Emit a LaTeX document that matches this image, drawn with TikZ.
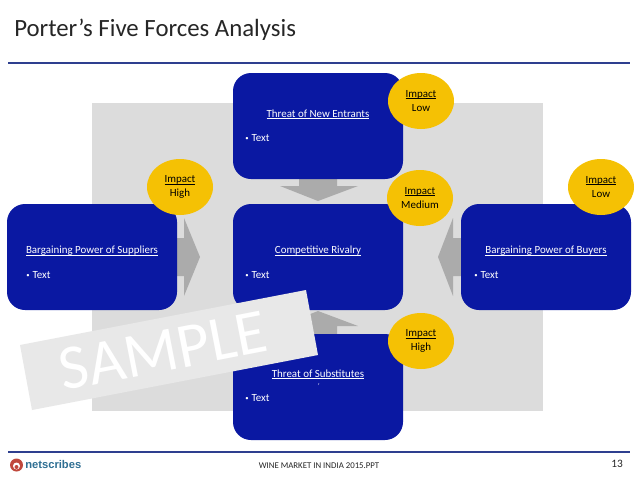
\documentclass[tikz,border=0pt]{standalone}
\usepackage{fontspec}
\setmainfont{Carlito}
\newfontfamily\logofont{Liberation Sans}
\definecolor{boxblue}{HTML}{0A18A2}
\definecolor{impact}{HTML}{F5C104}
\definecolor{panel}{HTML}{DCDCDC}
\definecolor{arrowgray}{HTML}{ABABAB}
\definecolor{rulecol}{HTML}{2E3F8F}
\definecolor{bandgray}{HTML}{E8E8E8}
\definecolor{logoblue}{HTML}{2F6F93}
\definecolor{logored}{HTML}{C0483C}
\newcommand{\myul}[1]{\setbox0=\hbox{#1}\rlap{\rule[-1.1pt]{\wd0}{0.45pt}}\box0}
\newcommand{\smallbul}{{\fontsize{5pt}{5pt}\selectfont\raisebox{0.7pt}{•}}\hspace{2.2pt}}
\tikzset{
 x=0.75pt,y=-0.75pt,
 force/.style={fill=boxblue,rounded corners=13.5pt,minimum width=127.5pt,minimum height=79.5pt,inner sep=0pt},
 ftitle/.style={text=white,font=\fontsize{8.2pt}{9pt}\selectfont,inner sep=0pt},
 ftext/.style={text=white,font=\fontsize{8.2pt}{9pt}\selectfont,inner sep=0pt,anchor=west},
 impactbub/.style={fill=impact,ellipse,minimum width=49.5pt,minimum height=42pt,inner sep=0pt,align=center,font=\fontsize{8.2pt}{10.4pt}\selectfont},
 blockarrow/.style={fill=arrowgray,draw=none},
 rulel/.style={draw=rulecol,line width=0.9pt},
}
\usetikzlibrary{shapes.geometric}
\begin{document}
\begin{tikzpicture}
\useasboundingbox (0,0) rectangle (638,479);
\fill[white] (0,0) rectangle (638,479);
\node[anchor=west,inner sep=0pt,font=\fontsize{18.6pt}{20pt}\selectfont,text=black!85] (title) at (14,30) {Porter’s Five Forces Analysis};
\coordinate (t1) at (8,63); \coordinate (t2) at (630,63);
\draw[rulel] (t1) -- (t2);
\fill[panel] (92,103) rectangle (543,411);
% block arrows
\fill[blockarrow] (299,179) -- (337,179) -- (337,186) -- (358,186) -- (318,201) -- (280,186) -- (299,186) -- cycle;
\fill[blockarrow] (177,238) -- (184,238) -- (184,218) -- (200,257) -- (184,296) -- (184,276) -- (177,276) -- cycle;
\fill[blockarrow] (461,238) -- (453,238) -- (453,218) -- (438,257) -- (453,296) -- (453,276) -- (461,276) -- cycle;
\fill[blockarrow] (299,334) -- (337,334) -- (337,326) -- (358,326) -- (318,311) -- (280,326) -- (299,326) -- cycle;
% forces
\node[force] (top) at (318,126) {};
\node[force] (mid) at (318,257) {};
\node[force] (left) at (92,257) {};
\node[force] (right) at (546,257) {};
\node[force] (bot) at (318,387) {};
\node[ftitle] (topt) at (318,114) {\myul{Threat of New Entrants}};
\node[ftext] (topx) at (245,138) {\smallbul Text};
\node[ftitle] (midt) at (318,251) {\myul{Competitive Rivalry}};
\node[ftext] (midx) at (245,275) {\smallbul Text};
\node[ftitle] (leftt) at (92,251) {\myul{Bargaining Power of Suppliers}};
\node[ftext] (leftx) at (26,275) {\smallbul Text};
\node[ftitle] (rightt) at (546,251) {\myul{Bargaining Power of Buyers}};
\node[ftext] (rightx) at (474,275) {\smallbul Text};
\node[ftitle] (bott) at (318,374) {\myul{Threat of Substitutes}};
\node[ftext] (botx) at (245,398) {\smallbul Text};
\fill[white] (318.6,383) -- (319.2,383) -- (318.4,385) -- cycle;
% impacts
\node[impactbub] (i1) at (421,101) {\myul{Impact}\\Low};
\node[impactbub] (i2) at (420,198) {\myul{Impact}\\Medium};
\node[impactbub] (i3) at (180,187) {\myul{Impact}\\High};
\node[impactbub] (i4) at (601,187) {\myul{Impact}\\Low};
\node[impactbub] (i5) at (421,341) {\myul{Impact}\\High};
% sample
\fill[bandgray] (20,345) -- (306,290) -- (318,355) -- (32,410) -- cycle;
\node[rotate=11,text=white,inner sep=0pt,font=\fontsize{47.5pt}{49pt}\selectfont] (sample) at (163,351) {SAMPLE};
% footer
\coordinate (b1) at (8,452); \coordinate (b2) at (630,452);
\draw[rulel] (b1) -- (b2);
\fill[logored] (16.5,465) circle[radius=6.5];
\fill[white] (16.5,466) circle[radius=3.5];
\fill[logored] (16.5,467) circle[radius=2];
\node[anchor=west,inner sep=0pt,text=logoblue,font=\logofont\bfseries\fontsize{8.4pt}{10pt}\selectfont] (logo) at (25,464) {netscribes};
\node[inner sep=0pt,font=\fontsize{6.6pt}{8pt}\selectfont,text=black!85] (foot) at (319,466) {WINE MARKET IN INDIA 2015.PPT};
\node[inner sep=0pt,font=\fontsize{8.5pt}{10pt}\selectfont,text=black!85] (page) at (617,464) {13};
\end{tikzpicture}
\end{document}
